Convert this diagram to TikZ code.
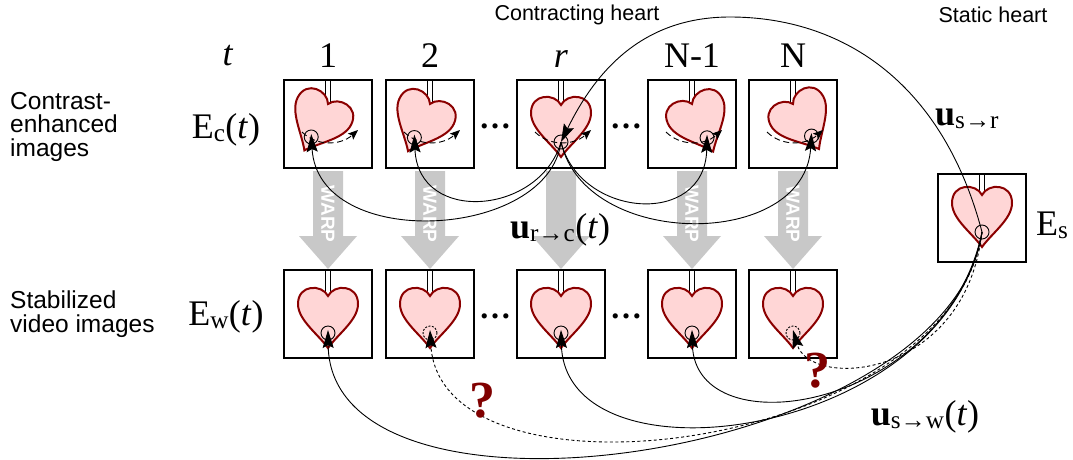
\documentclass[tikz,border=0pt]{standalone}
\usepackage{fontspec}
\setmainfont{Liberation Serif}
\setsansfont{Liberation Sans}
\usetikzlibrary{arrows.meta}

\definecolor{heartfill}{HTML}{FFD6D6}
\definecolor{heartline}{HTML}{8B0000}
\definecolor{warpgray}{HTML}{C8C8C8}
\definecolor{qred}{HTML}{800000}

\tikzset{
  frame/.style={draw=black, line width=2.6pt, fill=white, minimum width=88pt, minimum height=88pt, inner sep=0pt},
  heartshape/.style={draw=heartline, fill=heartfill, line width=2pt},
  stemline/.style={draw=black, line width=1.3pt},
  marker/.style={circle, draw=black, line width=0.9pt, minimum size=14pt, inner sep=0pt},
  markerdashed/.style={marker, dash pattern=on 2pt off 1.5pt},
  bigtip/.tip={Stealth[length=18pt, width=11pt, inset=3pt]},
  smalltip/.tip={Stealth[length=10pt, width=8pt, inset=2pt]},
  traj/.style={line width=0.9pt, dash pattern=on 6pt off 3.5pt, -smalltip},
  link/.style={line width=0.9pt, -bigtip},
  guess/.style={link, dash pattern=on 3pt off 2.5pt},
  serif/.style={font=\fontsize{36}{40}\selectfont, inner sep=0pt},
  sans/.style={font=\sffamily\fontsize{24.5}{23.5}\selectfont, inner sep=0pt, align=left},
  headsans/.style={font=\sffamily\fontsize{21.5}{24}\selectfont, inner sep=0pt},
  warptext/.style={font=\sffamily\bfseries\fontsize{19}{21}\selectfont, text=white, inner sep=0pt},
  dotsnode/.style={font=\bfseries\fontsize{32}{34}\selectfont, inner sep=0pt},
  qmark/.style={font=\bfseries\fontsize{52}{54}\selectfont, text=qred, inner sep=0pt},
  heart/.pic={
    \path[heartshape] (0,52) .. controls (-10,38) and (-30,24) .. (-30,8)
      .. controls (-30,-12) and (-6,-12) .. (0,0)
      .. controls (6,-12) and (30,-12) .. (30,8)
      .. controls (30,24) and (10,38) .. (0,52) -- cycle;
    \coordinate (-mark) at (0,37);
  },
}

\begin{document}
\begin{tikzpicture}[x=1pt, y=-1pt]
\useasboundingbox (0,0) rectangle (1073,459);

% warp arrows between the two rows
\foreach \x/\n in {328/1, 430/2, 561/r, 692/m, 793/n}{
  \fill[warpgray] (\x-15,171) -- (\x+15,171) -- (\x+15,236) -- (\x+29,236)
    -- (\x,269) -- (\x-29,236) -- (\x-15,236) -- cycle;
}
\foreach \x/\n in {328/1, 430/2, 692/m, 793/n}{
  \node[warptext, rotate=-90] (warp-\n) at (\x,214) {WARP};
}

% contrast-enhanced images: contracting heart
\foreach \x/\a/\ny/\n in {328/-27/104/1, 430/-25/104/2, 561/0/105/r, 692/24/104/m, 793/30/104/n}{
  \node[frame] (top-\n) at (\x,124) {};
  \fill[white] (\x-2.5,81) rectangle (\x+2.5,\ny+2);
  \draw[stemline] (\x-2.5,81) -- (\x-2.5,\ny+2) (\x+2.5,81) -- (\x+2.5,\ny+2);
  \pic[rotate=\a] (ht-\n) at (\x,\ny) {heart};
  \node[marker] (mk-\n) at (ht-\n-mark) {};
  \draw[traj] (\x-26,132) .. controls (\x-12,146) and (\x+12,146) .. (\x+30,130);
}

% stabilized video images
\foreach \x/\n/\st in {328/1/marker, 430/2/markerdashed, 561/r/marker, 692/m/marker, 793/n/markerdashed}{
  \node[frame] (bot-\n) at (\x,314) {};
  \fill[white] (\x-2.5,271) rectangle (\x+2.5,298);
  \draw[stemline] (\x-2.5,271) -- (\x-2.5,298) (\x+2.5,271) -- (\x+2.5,298);
  \pic (hb-\n) at (\x,296) {heart};
  \node[\st] (mw-\n) at (hb-\n-mark) {};
}

% static heart
\node[frame] (stat) at (982,218) {};
\fill[white] (979.5,175) rectangle (984.5,197);
\draw[stemline] (979.5,175) -- (979.5,197) (984.5,175) -- (984.5,197);
\pic (hs) at (982,195) {heart};
\node[marker] (mk-s) at (hs-mark) {};

% ellipses
\foreach \y/\r in {126/t, 316/b}{
  \node[dotsnode] (dl-\r) at (495,\y) {…};
  \node[dotsnode] (dr-\r) at (626,\y) {…};
}

% displacement from the reference frame to the other frames
\draw[link] (mk-r.center) .. controls (548,240) and (318,252) .. ([yshift=3pt]mk-1.center);
\draw[link] (mk-r.center) .. controls (540,215) and (418,225) .. ([yshift=3pt]mk-2.center);
\draw[link] (mk-r.center) .. controls (580,218) and (705,228) .. ([yshift=3pt]mk-m.center);
\draw[link] (mk-r.center) .. controls (585,250) and (805,250) .. ([yshift=3pt]mk-n.center);

% static heart to reference frame
\draw[link] (mk-s.center) .. controls (942,80) and (840,17) .. (730,17)
  .. controls (650,17) and (600,62) .. (mk-r.center);

% static heart to stabilized frames
\draw[link]  (mk-s.center) .. controls (950,460) and (330,548) .. ([yshift=3pt]mw-1.center);
\draw[guess] (mk-s.center) .. controls (950,452) and (440,515) .. ([yshift=3pt]mw-2.center);
\draw[link]  (mk-s.center) .. controls (945,440) and (565,490) .. ([yshift=3pt]mw-r.center);
\draw[link]  (mk-s.center) .. controls (945,410) and (695,450) .. ([yshift=3pt]mw-m.center);
\draw[guess] (mk-s.center) .. controls (965,380) and (810,390) .. ([yshift=3pt]mw-n.center);

\node[qmark] (q1) at (482,401) {?};
\node[qmark] (q2) at (817,371) {?};

% labels
\node[headsans] (lab-contract) at (577,15) {Contracting heart};
\node[headsans] (lab-static) at (993,15) {Static heart};
\node[sans, anchor=north west] (lab-ce) at (10,92) {Contrast-\\enhanced\\images};
\node[sans, anchor=north west] (lab-st) at (10,291) {Stabilized\\video images};

\node[serif, anchor=base] (lab-t) at (228,65) {\textit{t}};
\node[serif, anchor=base] (lab-1) at (328,67) {1};
\node[serif, anchor=base] (lab-2) at (430,67) {2};
\node[serif, anchor=base] (lab-r) at (561,67) {\textit{r}};
\node[serif, anchor=base] (lab-m) at (692,67) {N-1};
\node[serif, anchor=base] (lab-n) at (793,67) {N};

\node[serif, anchor=base] (lab-ec) at (226,138) {E\textsubscript{c}(\textit{t})};
\node[serif, anchor=base] (lab-ew) at (226,325) {E\textsubscript{w}(\textit{t})};
\node[serif, anchor=base west] (lab-es) at (1036,235) {E\textsubscript{s}};

\node[serif, anchor=base] (lab-urc) at (560,238) {\textbf{u}\textsubscript{r→c}(\textit{t})};
\node[serif, anchor=base west] (lab-usr) at (935,125) {\textbf{u}\textsubscript{s→r}};
\node[serif, anchor=base] (lab-usw) at (925,425) {\textbf{u}\textsubscript{s→w}(\textit{t})};
\end{tikzpicture}
\end{document}
